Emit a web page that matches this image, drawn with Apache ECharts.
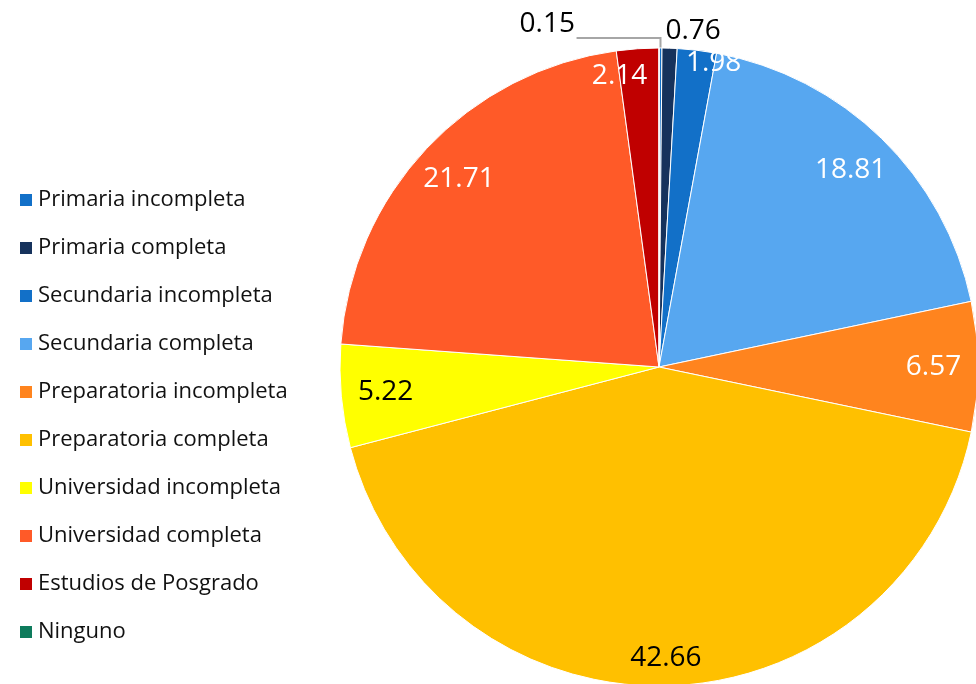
<!DOCTYPE html>
<html>
<head>
<meta charset="utf-8">
<script src="https://cdn.jsdelivr.net/npm/echarts@6/dist/echarts.min.js"></script>
<style>
	html, body { margin: 0; padding: 0; background: #fff; }
	#main { width: 976px; height: 684px; }
</style>
</head>
<body>
<div id="main"></div>
<script>
// categories (legend order = slice order, clockwise from top)
var categories = ['Primaria incompleta', 'Primaria completa', 'Secundaria incompleta', 'Secundaria completa',
	'Preparatoria incompleta', 'Preparatoria completa', 'Universidad incompleta', 'Universidad completa',
	'Estudios de Posgrado', 'Ninguno'];
// porcentajes
var values = [0.15, 0.76, 1.98, 18.81, 6.57, 42.66, 5.22, 21.71, 2.14, 0];
var colors = ['#1270C8', '#16325C', '#1270C8', '#57A7F0', '#FF841E', '#FFC000', '#FFFF00', '#FF5A28', '#C00000', '#0E7B5C'];
// colour of each value label
var labelColors = ['#000', '#000', '#fff', '#fff', '#fff', '#000', '#000', '#fff', '#fff', '#000'];

var myChart = echarts.init(document.getElementById('main'));

var pieData = [];
var labelData = [];
for (var i = 0; i < categories.length; i++) {
	pieData.push({ name: categories[i], value: values[i] });
	var lab = { show: values[i] > 0, color: labelColors[i] };
	if (i == 0) { //tiny slice: outside, leader line going left
		lab.position = 'outside';
		lab.offset = [-62, -14];
	}
	if (i == 1) lab.offset = [25, -62];
	if (i == 2) lab.offset = [22, -31];
	if (i == 5) lab.offset = [0, 17];
	if (i == 8) lab.offset = [-21, -17];
	labelData.push({
		name: categories[i],
		value: values[i],
		label: lab,
		labelLine: { show: i == 0 }
	});
}

var option = {
	backgroundColor: '#fff',
	color: colors,
	legend: {
		orient: 'vertical',
		left: 13,
		top: 184,
		itemWidth: 14,
		itemHeight: 14,
		itemGap: 26,
		icon: 'rect',
		data: categories,
		textStyle: {
			fontFamily: 'Open Sans',
			fontSize: 22,
			color: '#111'
		}
	},
	series: [
		{ // the pie itself
			type: 'pie',
			center: [659, 367],
			radius: [0, 319],
			startAngle: 90,
			clockwise: true,
			silent: true,
			avoidLabelOverlap: false,
			itemStyle: { borderColor: '#fff', borderWidth: 1 },
			label: { show: false },
			labelLine: { show: false },
			data: pieData
		},
		{ // transparent ring, only carries the value labels
			type: 'pie',
			center: [659, 367],
			radius: [224, 319],
			startAngle: 90,
			clockwise: true,
			silent: true,
			avoidLabelOverlap: false,
			itemStyle: { color: 'rgba(0,0,0,0)' },
			label: {
				position: 'inside',
				formatter: '{c}',
				fontFamily: 'Open Sans',
				fontSize: 28
			},
			labelLine: {
				length: 10,
				length2: -84,
				lineStyle: { color: '#a6a6a6', width: 2 }
			},
			data: labelData
		}
	]
};
myChart.setOption(option);
</script>
</body>
</html>
